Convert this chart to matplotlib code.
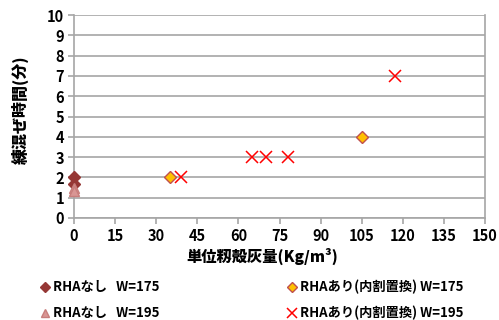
import matplotlib
matplotlib.use("Agg")
import matplotlib.pyplot as plt
from matplotlib.lines import Line2D

plt.rcParams['font.family'] = ['Noto Sans CJK JP', 'DejaVu Sans']

# Mixing time (min) vs. unit rice-husk-ash content (kg/m3)
no_rha_175_x = [0, 0]
no_rha_175_y = [2.0, 1.67]
no_rha_195_x = [0, 0]
no_rha_195_y = [1.5, 1.33]
rha_175_x = [35, 105]
rha_175_y = [2, 4]
rha_195_x = [39, 65, 70, 78, 117]
rha_195_y = [2, 3, 3, 3, 7]

series_labels = ["RHAなし   W=175", "RHAなし   W=195",
                 "RHAあり(内割置換) W=175", "RHAあり(内割置換) W=195"]
x_ticks = list(range(0, 151, 15))
y_ticks = list(range(0, 11))
x_title = "単位籾殻灰量(Kg/m³)"
y_title = "練混ぜ時間(分)"

fig = plt.figure(figsize=(4.99, 3.2), dpi=100)
ax = fig.add_axes([74/499, 1 - 218/320, (485-74)/499, (218-15)/320])

grid_c = "#a6a6a6"
ax.set_xlim(0, 150)
ax.set_ylim(0, 10)
ax.set_xticks(x_ticks)
ax.set_yticks(y_ticks)
ax.grid(axis='y', color=grid_c, linewidth=1.2)
ax.set_axisbelow(True)
for side in ['left', 'bottom', 'right']:
    ax.spines[side].set_color(grid_c)
    ax.spines[side].set_linewidth(1.2)
ax.spines['top'].set_visible(False)
ax.tick_params(axis='both', colors=grid_c, length=4, width=1.2, labelcolor='black',
               labelsize=10.5, pad=3)
for lab in ax.get_xticklabels() + ax.get_yticklabels():
    lab.set_fontweight('bold')

h1, = ax.plot(no_rha_175_x, no_rha_175_y, 'D', ms=6, color='#953735',
              mec='#953735', clip_on=False, zorder=3)
h2, = ax.plot(no_rha_195_x, no_rha_195_y, '^', ms=7.5, color='#d99694',
              mec='#c87e7c', clip_on=False, zorder=4)
h3, = ax.plot(rha_175_x, rha_175_y, 'D', ms=6, color='#ffc000',
              mec='#c0504d', mew=1.0, clip_on=False, zorder=3)
h4, = ax.plot(rha_195_x, rha_195_y, 'x', ms=8, color='#ff0000',
              mew=1.1, clip_on=False, zorder=3)

fig.text(262/499, 1 - 256/320, x_title, ha='center', va='center',
         fontsize=11, fontweight='heavy')
fig.text(20/499, 1 - 110/320, y_title, ha='center', va='center',
         rotation=90, fontsize=11.5, fontweight='heavy')

# Legend laid out in two columns under the plot
entries = [(h1, series_labels[0], 45, 287), (h2, series_labels[1], 45, 313),
           (h3, series_labels[2], 292, 287), (h4, series_labels[3], 292, 313)]
for h, label, px, py in entries:
    fx, fy = px/499, 1 - py/320
    ms = h.get_markersize() * 0.85
    m = Line2D([fx], [fy], transform=fig.transFigure, marker=h.get_marker(),
               ms=ms, color=h.get_color(), mec=h.get_mec(), mew=h.get_mew(),
               linestyle='none')
    fig.add_artist(m)
    fig.text(fx + 8/499, fy, label, ha='left', va='center', fontsize=9.5,
             fontweight='bold')

fig.savefig("out.png", dpi=100)
